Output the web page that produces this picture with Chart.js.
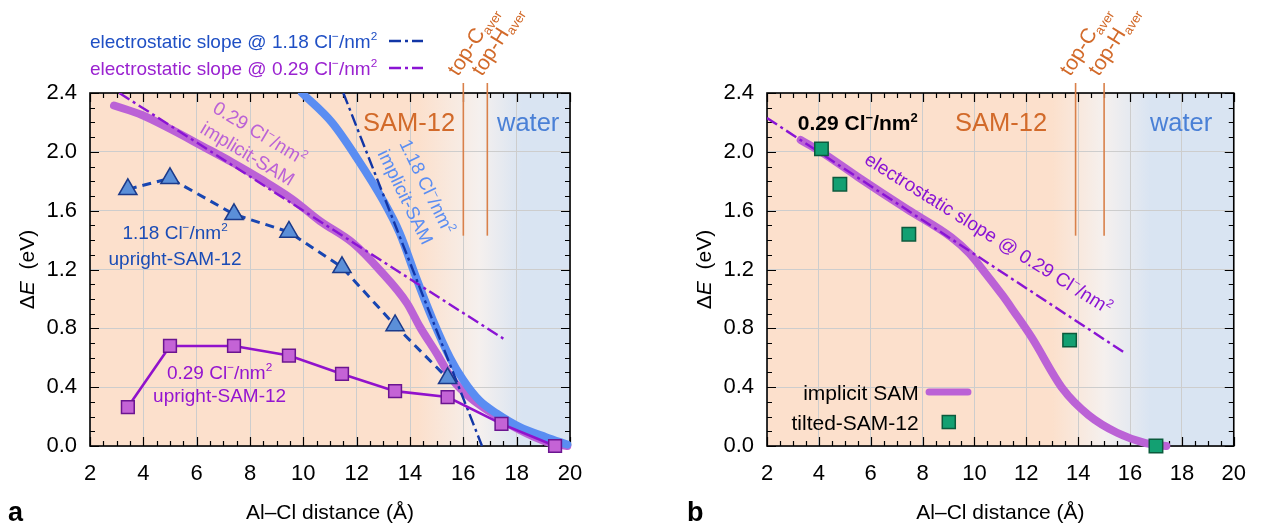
<!DOCTYPE html>
<html>
<head>
<meta charset="utf-8">
<script src="https://cdn.jsdelivr.net/npm/chart.js@4.4.1/dist/chart.umd.min.js"></script>
<style>
  body { margin: 0; background: #fff; }
  #wrap { position: relative; width: 1261px; height: 524px; }
  .box { position: absolute; top: 0; height: 524px; }
</style>
</head>
<body>
<div id="wrap">
  <div class="box" style="left:0;width:630px"><canvas id="chartA" width="630" height="524"></canvas></div>
  <div class="box" style="left:677px;width:584px"><canvas id="chartB" width="584" height="524"></canvas></div>
</div>
<script>
// ---- panel a data ----
const xUpright = [3.42, 5.0, 7.4, 9.46, 11.45, 13.44, 15.41, 17.43, 19.44];
const eUpright029 = [0.265, 0.68, 0.68, 0.615, 0.49, 0.373, 0.333, 0.15, 0.0];
const eUpright118 = [1.745, 1.82, 1.575, 1.455, 1.215, 0.82, 0.46];

const xImplicit029 = [2.9, 3.95, 5.07, 6.2, 7.32, 8.45, 9.57, 10.62, 11.86, 12.87, 13.89, 14.37, 15.0, 15.6, 16.25, 17.1, 18.1, 19.1, 19.9];
const eImplicit029 = [2.315, 2.25, 2.15, 2.04, 1.93, 1.81, 1.68, 1.53, 1.38, 1.195, 0.97, 0.81, 0.63, 0.45, 0.33, 0.22, 0.11, 0.03, 0.0];

const xImplicit118 = [9.95, 11.07, 12.0, 12.99, 13.62, 14.26, 14.86, 15.5, 15.99, 16.6, 17.26, 18.1, 19.1, 19.9];
const eImplicit118 = [2.40, 2.20, 1.96, 1.67, 1.445, 1.13, 0.855, 0.60, 0.45, 0.31, 0.22, 0.13, 0.06, 0.01];

const xSlope118 = [11.5, 16.7];
const eSlope118 = [2.4, 0.0];
const xSlope029a = [3.1, 17.5];
const eSlope029a = [2.4, 0.73];

const surfA = [16.0, 16.9];   // top-C aver, top-H aver

// ---- panel b data ----
const xTilted = [4.1, 4.81, 7.47, 13.67, 17.0];
const eTilted = [2.02, 1.78, 1.44, 0.72, 0.0];

const xImplicitB = [3.3, 4.0, 5.5, 7.4, 9.1, 9.8, 10.4, 11.1, 11.5, 12.2, 13.4, 14.4, 15.5, 16.6, 17.4];
const eImplicitB = [2.08, 2.01, 1.83, 1.61, 1.42, 1.31, 1.18, 1.02, 0.92, 0.74, 0.39, 0.21, 0.09, 0.02, 0.0];

const xSlope029b = [2.0, 15.8];
const eSlope029b = [2.23, 0.633];

const surfB = [13.9, 15.0];

// ---- axes ----
const xRange = [2, 20], xStep = 2, xMinor = 0.5;
const yRange = [0, 2.4], yStep = 0.4, yMinor = 0.1;

const FONT = "'Liberation Sans', Arial, Helvetica, sans-serif";
Chart.defaults.font.family = FONT;
Chart.defaults.color = '#000';

const C = {
  orange: '#fce0cc', mid: '#f5f0ee', blue: '#d9e4f2', grid: '#cdcdcd',
  thickPurple: '#bb62d6', thickBlue: '#5a8df2',
  dashBlue: '#1236a6', dashPurple: '#8a14d4',
  triLine: '#1846b2', triFill: '#5b8fd8', triEdge: '#1b3a8a',
  sqLine: '#9112cc', sqFill: '#c463d6', sqEdge: '#6b1590',
  green: '#13a072', greenEdge: '#0b5a3c',
  surf: '#d9804a', surfText: '#d26a2a', water: '#4a80d6',
  uprightBlue: '#1a4cb6', uprightPurple: '#9414d0'
};

const pts = (xs, ys) => ys.map((y, i) => ({ x: xs[i], y }));

// small rich-text helper: ^{sup} _{sub} *{italic}
function parseRich(str) {
  const out = [];
  const re = /([\^_*])\{([^}]*)\}/g;
  let last = 0, m;
  while ((m = re.exec(str))) {
    if (m.index > last) out.push({ t: str.slice(last, m.index) });
    out.push({ t: m[2], s: m[1] });
    last = re.lastIndex;
  }
  if (last < str.length) out.push({ t: str.slice(last) });
  return out;
}

function drawRich(ctx, str, x, y, o) {
  const parts = parseRich(str);
  const fontOf = p => {
    const small = p.s === '^' || p.s === '_';
    const size = small ? o.size * 0.62 : o.size;
    return (p.s === '*' ? 'italic ' : '') + (o.bold ? 'bold ' : '') + size + 'px ' + FONT;
  };
  let w = 0;
  for (const p of parts) { ctx.font = fontOf(p); p.w = ctx.measureText(p.t).width; w += p.w; }
  let cx = o.align === 'center' ? x - w / 2 : o.align === 'right' ? x - w : x;
  ctx.fillStyle = o.color || '#000';
  ctx.textAlign = 'left';
  ctx.textBaseline = 'alphabetic';
  for (const p of parts) {
    ctx.font = fontOf(p);
    const dy = p.s === '^' ? -o.size * 0.4 : p.s === '_' ? o.size * 0.2 : 0;
    ctx.fillText(p.t, cx, y + dy);
    cx += p.w;
  }
}

function drawBlock(ctx, lines, x, y, o) {
  ctx.save();
  ctx.translate(x, y);
  ctx.rotate((o.rot || 0) * Math.PI / 180);
  lines.forEach((ln, i) => {
    const dy = (i - (lines.length - 1) / 2) * (o.lh || o.size * 1.2);
    drawRich(ctx, ln, 0, dy + o.size * 0.36, Object.assign({}, o, { align: o.align || 'center' }));
  });
  ctx.restore();
}

function panelPlugin(cfg) {
  return {
    id: 'panel',
    beforeDraw(chart) {
      const { ctx, chartArea: a, scales: { x } } = chart;
      const p0 = x.getPixelForValue(cfg.fade[0]);
      const p1 = x.getPixelForValue(cfg.fade[1]);
      const p2 = x.getPixelForValue(cfg.fade[2]);
      const g = ctx.createLinearGradient(p0, 0, p2, 0);
      g.addColorStop(0, C.orange);
      g.addColorStop((p1 - p0) / (p2 - p0), C.mid);
      g.addColorStop(1, C.blue);
      ctx.save();
      ctx.fillStyle = g;
      ctx.fillRect(a.left, a.top, a.right - a.left, a.bottom - a.top);
      ctx.restore();
    },
    beforeDatasetsDraw(chart) {
      const { ctx, chartArea: a, scales: { x, y } } = chart;
      ctx.save();
      // inward ticks on all four sides
      ctx.strokeStyle = '#000';
      ctx.lineWidth = 1.2;
      ctx.beginPath();
      for (let v = xRange[0]; v <= xRange[1] + 1e-6; v += xMinor) {
        const px = Math.round(x.getPixelForValue(v)) + 0.5;
        const len = Math.abs(v / xStep - Math.round(v / xStep)) < 1e-6 ? 9 : 5;
        ctx.moveTo(px, a.bottom); ctx.lineTo(px, a.bottom - len);
        ctx.moveTo(px, a.top); ctx.lineTo(px, a.top + len);
      }
      for (let v = yRange[0]; v <= yRange[1] + 1e-6; v += yMinor) {
        const py = Math.round(y.getPixelForValue(v)) + 0.5;
        const len = Math.abs(v / yStep - Math.round(v / yStep)) < 1e-6 ? 9 : 5;
        ctx.moveTo(a.left, py); ctx.lineTo(a.left + len, py);
        ctx.moveTo(a.right, py); ctx.lineTo(a.right - len, py);
      }
      ctx.stroke();
      ctx.lineWidth = 1.6;
      ctx.strokeRect(a.left, a.top, a.right - a.left, a.bottom - a.top);

      // surface markers
      ctx.strokeStyle = C.surf;
      ctx.lineWidth = 1.6;
      const names = ['top-C_{aver}', 'top-H_{aver}'];
      cfg.surf.forEach((v, i) => {
        const px = x.getPixelForValue(v);
        ctx.beginPath();
        ctx.moveTo(px, a.top - 10);
        ctx.lineTo(px, y.getPixelForValue(1.43));
        ctx.stroke();
        ctx.save();
        ctx.translate(px - 5, a.top - 16);
        ctx.rotate(-58 * Math.PI / 180);
        drawRich(ctx, names[i], 0, 0, { size: 21, color: C.surfText });
        ctx.restore();
      });

      // region labels
      drawRich(ctx, 'SAM-12', x.getPixelForValue(cfg.sam), y.getPixelForValue(2.2) + 9, { size: 25.5, color: C.surfText, align: 'right' });
      drawRich(ctx, 'water', x.getPixelForValue(cfg.water), y.getPixelForValue(2.2) + 9, { size: 25.5, color: C.water, align: 'right' });

      // axis titles and panel letter
      const cx = (a.left + a.right) / 2;
      drawRich(ctx, 'Al–Cl distance (Å)', cx, 519, { size: 21, align: 'center' });
      drawBlock(ctx, ['Δ*{E}  (eV)'], a.left - 64, (a.top + a.bottom) / 2, { size: 21, rot: -90 });
      drawRich(ctx, cfg.letter, cfg.letterX, 521, { size: 27, bold: true });
      ctx.restore();
    },
    afterDatasetsDraw(chart) {
      const { ctx, scales: { x, y } } = chart;
      ctx.save();
      cfg.notes.forEach(n => {
        drawBlock(ctx, n.lines, x.getPixelForValue(n.at[0]), y.getPixelForValue(n.at[1]), n);
      });
      if (cfg.after) cfg.after(chart);
      ctx.restore();
    }
  };
}

function baseOptions(padRight) {
  return {
    responsive: false,
    animation: false,
    layout: { padding: { left: 44, right: padRight, top: 93, bottom: 0 } },
    plugins: { legend: { display: false }, tooltip: { enabled: false } },
    elements: { point: { radius: 0 } },
    scales: {
      x: {
        type: 'linear', min: xRange[0], max: xRange[1],
        afterFit: s => { s.height = 78; },
        ticks: { stepSize: xStep, padding: 15, color: '#000', font: { size: 22 } },
        grid: { color: C.grid, drawTicks: false },
        border: { display: false }
      },
      y: {
        type: 'linear', min: yRange[0], max: yRange[1],
        afterFit: s => { s.width = 46; },
        ticks: { stepSize: yStep, padding: 13, color: '#000', font: { size: 22 }, callback: v => Number(v).toFixed(1) },
        grid: { color: C.grid, drawTicks: false },
        border: { display: false }
      }
    }
  };
}

const slopeLegend = [
  { text: 'electrostatic slope @ 1.18 Cl^{−}/nm^{2}', color: '#1f4fc4', line: C.dashBlue },
  { text: 'electrostatic slope @ 0.29 Cl^{−}/nm^{2}', color: '#9a22d0', line: C.dashPurple }
];

// ---------- panel a ----------
new Chart(document.getElementById('chartA'), {
  type: 'scatter',
  data: {
    datasets: [
      {
        data: pts(xUpright, eUpright029), showLine: true, clip: false,
        borderColor: C.sqLine, borderWidth: 2.6,
        pointStyle: 'rect', pointRadius: 9, pointBackgroundColor: C.sqFill,
        pointBorderColor: C.sqEdge, pointBorderWidth: 1.5
      },
      {
        data: pts(xUpright, eUpright118), showLine: true, clip: false,
        borderColor: C.triLine, borderWidth: 3, borderDash: [9, 6],
        pointStyle: 'triangle', pointRadius: 10.5, pointBackgroundColor: C.triFill,
        pointBorderColor: C.triEdge, pointBorderWidth: 1.5
      },
      {
        data: pts(xSlope118, eSlope118), showLine: true, clip: { left: 0, top: 0, right: 0, bottom: 3 },
        borderColor: C.dashBlue, borderWidth: 2.4, borderDash: [12, 4, 3, 4], pointRadius: 0
      },
      {
        data: pts(xSlope029a, eSlope029a), showLine: true, clip: 0,
        borderColor: C.dashPurple, borderWidth: 2.4, borderDash: [12, 4, 3, 4], pointRadius: 0
      },
      {
        data: pts(xImplicit118, eImplicit118), showLine: true, clip: { left: 0, top: 0, right: 6, bottom: 6 },
        borderColor: C.thickBlue, borderWidth: 8, borderCapStyle: 'round', borderJoinStyle: 'round',
        cubicInterpolationMode: 'monotone', pointRadius: 0
      },
      {
        data: pts(xImplicit029, eImplicit029), showLine: true, clip: { left: 0, top: 0, right: 6, bottom: 6 },
        borderColor: C.thickPurple, borderWidth: 8, borderCapStyle: 'round', borderJoinStyle: 'round',
        cubicInterpolationMode: 'monotone', pointRadius: 0
      }
    ]
  },
  options: baseOptions(60),
  plugins: [panelPlugin({
    fade: [14.3, 16.6, 18.2],
    surf: surfA, sam: 15.69, water: 19.6,
    letter: 'a', letterX: 8,
    notes: [
      { lines: ['0.29 Cl^{−}/nm^{2}', 'implicit-SAM'], at: [8.15, 2.06], rot: 31, size: 19, lh: 24, color: C.thickPurple },
      { lines: ['1.18 Cl^{−}/nm^{2}', 'implicit-SAM'], at: [14.25, 1.73], rot: 64, size: 18.5, lh: 24, color: C.thickBlue },
      { lines: ['1.18 Cl^{−}/nm^{2}', 'upright-SAM-12'], at: [5.19, 1.366], size: 19, lh: 26, color: C.uprightBlue },
      { lines: ['0.29 Cl^{−}/nm^{2}', 'upright-SAM-12'], at: [6.86, 0.425], size: 19, lh: 23, color: C.uprightPurple }
    ],
    after(chart) {
      const { ctx, chartArea: a } = chart;
      slopeLegend.forEach((l, i) => {
        const base = a.top - 45 + i * 27;
        drawRich(ctx, l.text, a.left, base, { size: 19, color: l.color });
        ctx.save();
        ctx.strokeStyle = l.line;
        ctx.lineWidth = 2.6;
        ctx.setLineDash([12, 4, 3, 4]);
        ctx.beginPath();
        ctx.moveTo(389, base - 7);
        ctx.lineTo(423, base - 7);
        ctx.stroke();
        ctx.restore();
      });
    }
  })]
});

// ---------- panel b ----------
new Chart(document.getElementById('chartB'), {
  type: 'scatter',
  data: {
    datasets: [
      {
        data: pts(xTilted, eTilted), showLine: false, clip: false,
        pointStyle: 'rect', pointRadius: 9.5, pointBackgroundColor: C.green,
        pointBorderColor: C.greenEdge, pointBorderWidth: 1.5
      },
      {
        data: pts(xSlope029b, eSlope029b), showLine: true, clip: 0,
        borderColor: C.dashPurple, borderWidth: 2.4, borderDash: [12, 4, 3, 4], pointRadius: 0
      },
      {
        data: pts(xImplicitB, eImplicitB), showLine: true, clip: { left: 0, top: 0, right: 6, bottom: 6 },
        borderColor: C.thickPurple, borderWidth: 8, borderCapStyle: 'round', borderJoinStyle: 'round',
        cubicInterpolationMode: 'monotone', pointRadius: 0
      }
    ]
  },
  options: baseOptions(14),
  plugins: [panelPlugin({
    fade: [13.0, 15.0, 16.8],
    surf: surfB, sam: 12.8, water: 19.17,
    letter: 'b', letterX: 10,
    notes: [
      { lines: ['0.29 Cl^{−}/nm^{2}'], at: [5.5, 2.2], size: 21, bold: true, color: '#000' },
      { lines: ['electrostatic slope @ 0.29 Cl^{−}/nm^{2}'], at: [10.55, 1.448], rot: 32, size: 19, color: C.dashPurple }
    ],
    after(chart) {
      const { ctx, scales: { x, y } } = chart;
      const r1 = y.getPixelForValue(0.367), r2 = y.getPixelForValue(0.163);
      const tx = x.getPixelForValue(7.85);
      drawRich(ctx, 'implicit SAM', tx, r1 + 7.5, { size: 21, align: 'right' });
      drawRich(ctx, 'tilted-SAM-12', tx, r2 + 7.5, { size: 21, align: 'right' });
      ctx.save();
      ctx.strokeStyle = C.thickPurple;
      ctx.lineWidth = 7;
      ctx.lineCap = 'round';
      ctx.beginPath();
      ctx.moveTo(x.getPixelForValue(8.25), r1);
      ctx.lineTo(x.getPixelForValue(9.75), r1);
      ctx.stroke();
      const sx = x.getPixelForValue(9.01);
      ctx.fillStyle = C.green;
      ctx.strokeStyle = C.greenEdge;
      ctx.lineWidth = 1.5;
      ctx.fillRect(sx - 6.5, r2 - 6.5, 13, 13);
      ctx.strokeRect(sx - 6.5, r2 - 6.5, 13, 13);
      ctx.restore();
    }
  })]
});
</script>
</body>
</html>
